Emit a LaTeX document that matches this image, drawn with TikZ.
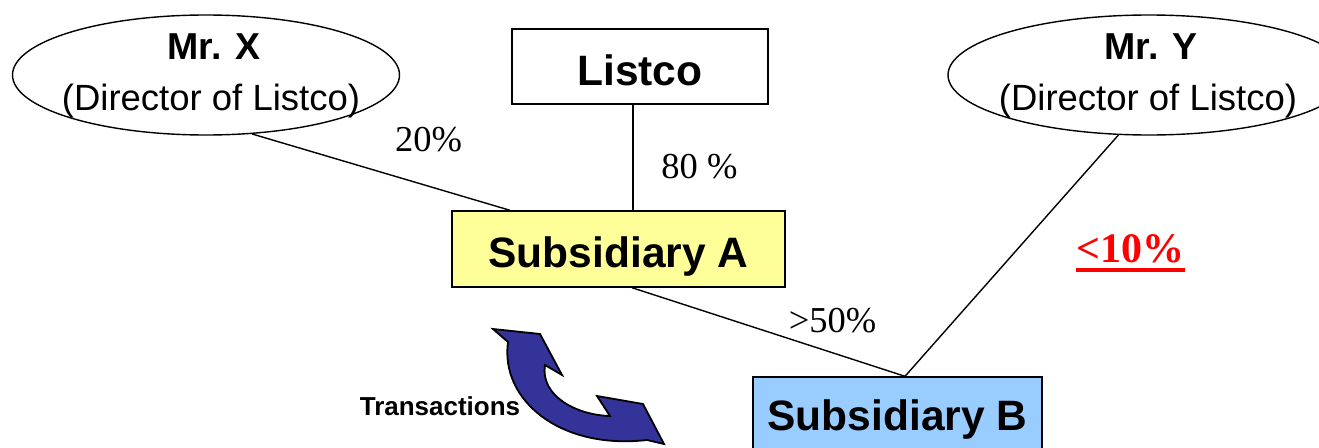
\documentclass[tikz,border=0pt]{standalone}
\usepackage{fontspec}
\setmainfont{Liberation Sans}
\newfontfamily\pctfont{Liberation Serif}
\usetikzlibrary{shapes.geometric}
\definecolor{subAfill}{HTML}{FFFF99}
\definecolor{subBfill}{HTML}{99CCFF}
\definecolor{arrowblue}{HTML}{333399}
\begin{document}
\begin{tikzpicture}[x=1pt,y=-1pt,
  person/.style={ellipse, draw, line width=1.4pt, inner sep=0pt, minimum height=120pt},
  nametext/.style={anchor=base, inner sep=0pt, font=\bfseries\fontsize{37.5}{37.5}\selectfont},
  roletext/.style={anchor=base, inner sep=0pt, font=\fontsize{36.5}{36.5}\selectfont},
  entity/.style={rectangle, draw, line width=1.4pt, inner sep=0pt, text depth=0pt,
                 font=\bfseries\fontsize{42.5}{42.5}\selectfont},
  share/.style={anchor=base, inner sep=0pt, font=\pctfont\fontsize{36.5}{36.5}\selectfont},
  link/.style={line width=1.4pt}]
\useasboundingbox (0,0) rectangle (1319,447);
\clip (0,0) rectangle (1319,447);

% shareholders
\node[person, minimum width=387pt] (mrx) at (206,75) {};
\node[nametext] (mrxname) at (214,59) {Mr. X};
\node[roletext] (mrxrole) at (211,110) {(Director of Listco)};

\node[person, minimum width=402pt] (mry) at (1149,75) {};
\node[nametext] (mryname) at (1151,59) {Mr. Y};
\node[roletext] (myrole) at (1148,110) {(Director of Listco)};

% companies
\node[entity, minimum width=256pt, minimum height=75pt, text height=37pt] (listco) at (640,66.5) {Listco};
\node[entity, fill=subAfill, minimum width=333pt, minimum height=76pt, text height=36pt] (subA) at (618.5,249) {Subsidiary A};
\node[entity, fill=subBfill, minimum width=289pt, minimum height=76pt, text height=30pt] (subB) at (897.5,415) {Subsidiary B};

% shareholding links
\draw[link] (mrx.308) -- ([xshift=-108.5pt]subA.north);
\draw[link] ([xshift=-7pt]listco.south) -- ([xshift=-7pt]listco.south |- subA.north);
\draw[link] ([xshift=13.5pt]subA.south) -- ([xshift=7.5pt]subB.north);
\draw[link] (mry.243) -- ([xshift=7.5pt]subB.north);

% percentages
\node[share] (p20) at (428.5,151) {20\%};
\node[share] (p80) at (699.5,178) {80 \%};
\node[share] (p50) at (832.5,332) {>50\%};
\node[share, text=red, font=\pctfont\bfseries\fontsize{42}{42}\selectfont] (p10) at (1130.5,262) {<10\%};
\draw[red, line width=3.5pt] ([yshift=-8pt]p10.base west) -- ([yshift=-8pt]p10.base east);

% transactions between the subsidiaries
\node[anchor=base, inner sep=0pt, font=\bfseries\fontsize{26}{26}\selectfont] (trans) at (440,415) {Transactions};
\draw[fill=arrowblue, line width=1.8pt, line join=miter]
  (493,329) -- (540,334) -- (562,375) -- (545,365)
  .. controls (540,395) and (575,415) .. (610,416)
  -- (597,396) -- (643,404) -- (664,444) -- (647,440)
  .. controls (560,450) and (500,400) .. (508,342) -- cycle;
\end{tikzpicture}
\end{document}
